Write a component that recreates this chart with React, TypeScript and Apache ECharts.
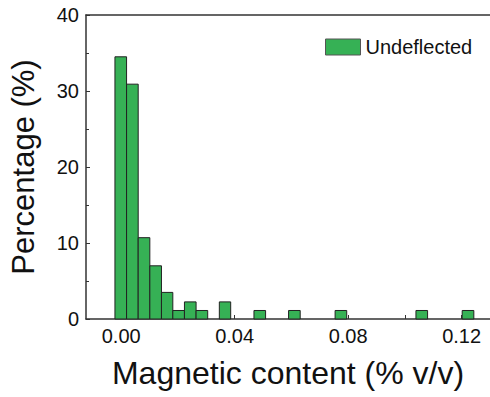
import React, { useEffect, useRef } from "react";
import * as echarts from "echarts";

// Histogram bins (lower edge, upper edge) in % v/v and their percentages
const binStart = [-0.0022, 0.0019, 0.0060, 0.0101, 0.0142, 0.0182, 0.0223, 0.0264, 0.0346, 0.0468, 0.0590, 0.0754, 0.1039, 0.1202];
const binEnd = [0.0019, 0.0060, 0.0101, 0.0142, 0.0182, 0.0223, 0.0264, 0.0305, 0.0386, 0.0509, 0.0631, 0.0795, 0.1080, 0.1243];
const percentages = [34.5, 30.9, 10.7, 7.0, 3.5, 1.12, 2.25, 1.12, 2.25, 1.12, 1.12, 1.12, 1.12, 1.12];

const xLabelValues = [0, 0.04, 0.08, 0.12];
const xTickValues = [0, 0.02, 0.04, 0.06, 0.08, 0.1, 0.12];
const seriesName = "Undeflected";

const FONT = "'Liberation Sans', Arial, sans-serif";
const TEXT = "#111111";
const AXIS = "#333333";
const FILL = "#36b155";

export default function App() {
  const ref = useRef<HTMLDivElement>(null);
  useEffect(() => {
    if (!ref.current) return;
    const chart = echarts.init(ref.current, undefined, { renderer: "svg" });
    const data = binStart.map((s, i) => [s, binEnd[i], percentages[i]]);
    chart.setOption({
      animation: false,
      backgroundColor: "#ffffff",
      textStyle: { fontFamily: FONT },
      grid: { left: 84, top: 15, width: 408, height: 304 },
      legend: {
        left: 320,
        top: 32,
        itemWidth: 35,
        itemHeight: 16,
        icon: "rect",
        textStyle: { fontSize: 20, color: TEXT, fontFamily: FONT },
        data: [{ name: seriesName, itemStyle: { color: FILL, borderColor: "#555", borderWidth: 1 } }],
      },
      xAxis: [
        {
          type: "value",
          min: -0.0124,
          max: 0.13,
          position: "bottom",
          splitLine: { show: false },
          axisLine: { show: true, onZero: false, lineStyle: { color: AXIS, width: 1.5 } },
          axisTick: { show: true, inside: true, length: 4, customValues: xTickValues, lineStyle: { color: AXIS } },
          axisLabel: {
            customValues: xLabelValues,
            formatter: (v: number) => v.toFixed(2),
            fontSize: 20,
            color: TEXT,
            margin: 7,
            fontFamily: FONT,
          },
          name: "Magnetic content (% v/v)",
          nameLocation: "middle",
          nameGap: 38,
          nameTextStyle: { fontSize: 32, color: TEXT, fontFamily: FONT },
        },
        {
          type: "value",
          min: -0.0124,
          max: 0.13,
          position: "top",
          splitLine: { show: false },
          axisLine: { show: true, onZero: false, lineStyle: { color: AXIS, width: 1.5 } },
          axisTick: { show: false },
          axisLabel: { show: false },
        },
      ],
      yAxis: {
        type: "value",
        min: 0,
        max: 40,
        interval: 10,
        splitLine: { show: false },
        axisLine: { show: true, onZero: false, lineStyle: { color: AXIS, width: 1.5 } },
        axisTick: { show: true, inside: true, length: 4, lineStyle: { color: AXIS } },
        minorTick: { show: true, splitNumber: 2, length: 3, lineStyle: { color: AXIS } },
        minorSplitLine: { show: false },
        axisLabel: { fontSize: 20, color: TEXT, margin: 7, fontFamily: FONT },
        name: "Percentage (%)",
        nameLocation: "middle",
        nameGap: 47,
        nameTextStyle: { fontSize: 31, color: TEXT, fontFamily: FONT },
      },
      series: [
        {
          type: "custom",
          name: seriesName,
          xAxisIndex: 0,
          yAxisIndex: 0,
          itemStyle: { color: FILL, borderColor: "#222", borderWidth: 1 },
          encode: { x: [0, 1], y: 2 },
          renderItem: (params: any, api: any) => {
            const p0 = api.coord([api.value(0), 0]);
            const p1 = api.coord([api.value(1), api.value(2)]);
            return {
              type: "rect",
              shape: { x: p0[0], y: p1[1], width: p1[0] - p0[0], height: p0[1] - p1[1] },
              style: { fill: FILL, stroke: "#222", lineWidth: 1 },
            };
          },
          data,
        },
      ],
    });
    return () => chart.dispose();
  }, []);
  return (
    <div
      ref={ref}
      style={{ position: "fixed", left: 0, top: 0, width: 490, height: 397, background: "#fff" }}
    />
  );
}
